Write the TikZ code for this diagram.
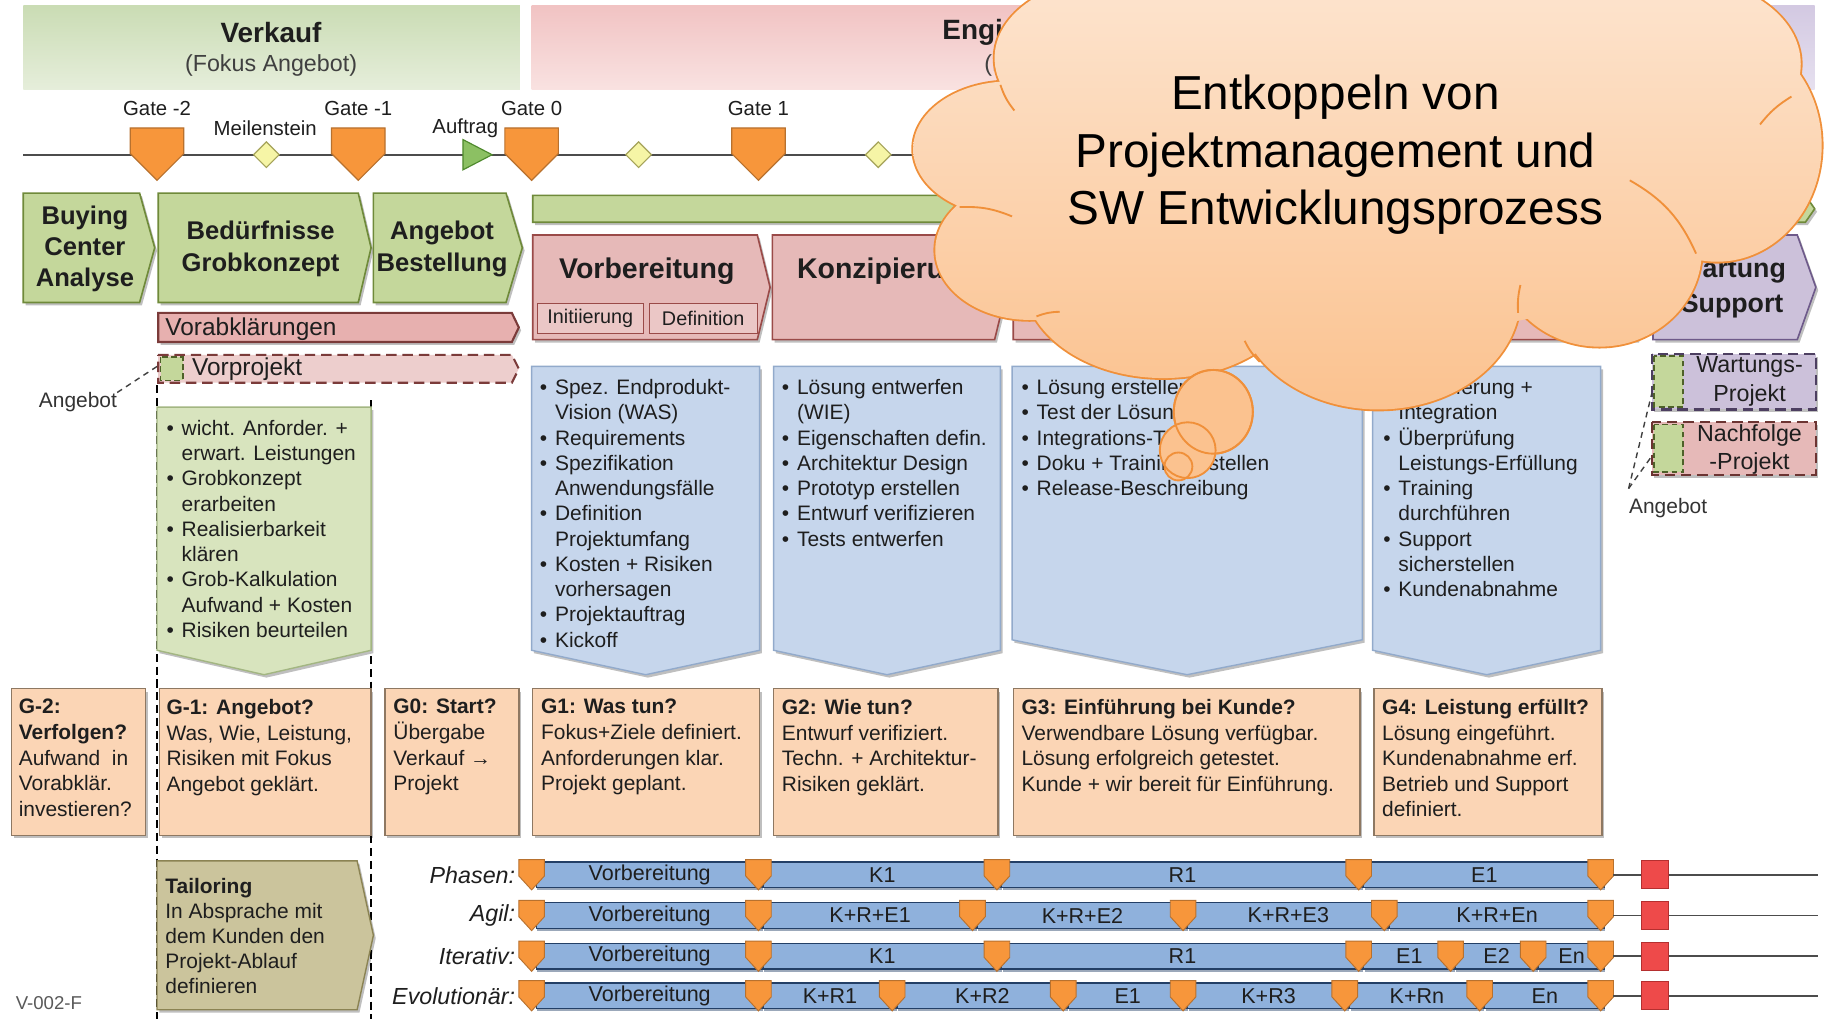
\documentclass[tikz,border=0pt]{standalone}
\usepackage{fontspec}
\setmainfont{Liberation Sans}
\usetikzlibrary{shadows}

% ---------- colours ----------
\definecolor{txt}{HTML}{1E1E1E}
\definecolor{verkaufA}{HTML}{CADCB4}
\definecolor{verkaufB}{HTML}{E6EEDB}
\definecolor{engA}{HTML}{F1C3C3}
\definecolor{engB}{HTML}{F9E2E1}
\definecolor{betrA}{HTML}{D3C9E2}
\definecolor{betrB}{HTML}{E6E0EF}
\definecolor{gateF}{HTML}{F7963B}
\definecolor{gateD}{HTML}{B8712E}
\definecolor{msF}{HTML}{F6F5A6}
\definecolor{msD}{HTML}{A5A35A}
\definecolor{auftF}{HTML}{8CC063}
\definecolor{auftD}{HTML}{4F8A2E}
\definecolor{grnF}{HTML}{C4D79B}
\definecolor{grnD}{HTML}{6F8A3A}
\definecolor{pnkF}{HTML}{E6B9B8}
\definecolor{pnkD}{HTML}{9A4A48}
\definecolor{purF}{HTML}{CCC1DA}
\definecolor{purD}{HTML}{6E5A8A}
\definecolor{bluF}{HTML}{C6D6EC}
\definecolor{bluD}{HTML}{92AACB}
\definecolor{lgrF}{HTML}{D8E4BE}
\definecolor{lgrD}{HTML}{A3B682}
\definecolor{pchF}{HTML}{FBD5B5}
\definecolor{pchD}{HTML}{8E7862}
\definecolor{tanF}{HTML}{CBC49C}
\definecolor{tanD}{HTML}{8B8353}
\definecolor{barF}{HTML}{8FB1DC}
\definecolor{barD}{HTML}{233F66}
\definecolor{redF}{HTML}{EE4A4A}
\definecolor{redD}{HTML}{B52F2F}
\definecolor{clTop}{HTML}{FDE7D4}
\definecolor{clBot}{HTML}{FBC28F}
\definecolor{clLine}{HTML}{F0903A}

% ---------- shape helpers ----------
% arrow box pointing right: style, x1, y1, x2 (tip), y2, tip depth
\newcommand\hplate[6]{\path[#1] (#2,#3) -- ({#4-#6},#3) -- (#4,{(#3+#5)/2}) -- ({#4-#6},#5) -- (#2,#5) -- cycle;}
% box pointing down: style, x1, y1, x2, shoulder y, tip y
\newcommand\dnbox[6]{\path[#1] (#2,#3) -- (#4,#3) -- (#4,#5) -- ({(#2+#4)/2},#6) -- (#2,#5) -- cycle;}
\newcommand\biggate[1]{\path[gatest] ({#1-23},110) -- ({#1+23},110) -- ({#1+23},132) -- (#1,155) -- ({#1-23},132) -- cycle;}
\newcommand\smallgate[2]{\path[gatest,line width=0.8] ({#1-11},{#2-13}) -- ({#1+11},{#2-13}) -- ({#1+11},{#2+1}) -- (#1,{#2+13}) -- ({#1-11},{#2+1}) -- cycle;}
\newcommand\mdiamond[2]{\path[diast] ({#1-11},#2) -- (#1,{#2-11}) -- ({#1+11},#2) -- (#1,{#2+11}) -- cycle;}
\newcommand\blt{\makebox[13pt][l]{\textbullet}}
\newcommand\bsk{\hspace*{13pt}}

% one tailoring row: name, y, segments x1/x2/label, gate positions
\newcommand\phaserow[4]{%
  \foreach \xa/\xb/\lab [count=\i] in {#3}{
    \path[barst] ({\xa+4},{#2-11}) rectangle ({\xb+3},{#2+11});
    \node[bartxt] (#1seg\i) at ({(\xa+\xb)/2+4},#2) {\lab};
  }
  \foreach \g in {#4}{\smallgate{\g}{#2}}
  \node[redsq] (#1stop) at (1422.5,#2) {};
  \coordinate (#1tail) at (1387,#2);
  \coordinate (#1end) at (1563,#2);
  \draw[tline] (#1tail) -- (#1stop);
  \draw[tline] (#1stop) -- (#1end);
}

% lobes of the thought cloud
\newcommand\cloudlobes{
  (960,50) ellipse [x radius=105, y radius=70]
  (868,128) ellipse [x radius=83, y radius=58]
  (885,215) ellipse [x radius=81, y radius=60]
  (1000,240) ellipse [x radius=120, y radius=85]
  (1185,255) ellipse [x radius=122, y radius=97]
  (1375,215) ellipse [x radius=88, y radius=83]
  (1476,125) ellipse [x radius=90, y radius=100]
  (1440,55) ellipse [x radius=108, y radius=75]
}
\newcommand\cloudcore{
  (1160,150) ellipse [x radius=330, y radius=140]
  (1200,30) ellipse [x radius=260, y radius=80]
}

\tikzset{
  shd/.style={drop shadow={shadow xshift=2pt, shadow yshift=-2.5pt, opacity=.25, fill=black}},
  chevG/.style={fill=grnF, draw=grnD, line width=1.4, shd},
  chevP/.style={fill=pnkF, draw=pnkD, line width=1.4, shd},
  chevV/.style={fill=purF, draw=purD, line width=1.4, shd},
  subP/.style={fill=pnkF!80!white, draw=pnkD, line width=1},
  gatest/.style={fill=gateF, draw=gateD, line width=1},
  diast/.style={fill=msF, draw=msD, line width=1},
  auft/.style={fill=auftF, draw=auftD, line width=1},
  tline/.style={draw=black!70, line width=1.5},
  lgr/.style={fill=lgrF, draw=lgrD, line width=1.2, shd},
  blu/.style={fill=bluF, draw=bluD, line width=1.2, shd},
  pch/.style={fill=pchF, draw=pchD, line width=1.2, shd},
  tan/.style={fill=tanF, draw=tanD, line width=1.2, shd},
  barst/.style={fill=barF, draw=barD, line width=1.3, drop shadow={shadow xshift=1pt, shadow yshift=-2.5pt, opacity=.45, fill=barD}},
  redsq/.style={rectangle, minimum width=23, minimum height=24, inner sep=0, fill=redF, draw=redD, line width=1},
  vdash/.style={draw=black, line width=1.3, dash pattern=on 7pt off 4pt},
  dashlink/.style={draw=black!75, line width=1.2, dash pattern=on 5pt off 4pt},
  lbl/.style={font=\fontsize{17.5}{20}\selectfont, text=txt, inner sep=0},
  chevtxt/.style={font=\bfseries\fontsize{22}{27}\selectfont, align=center, text=txt, inner sep=0},
  phtxt/.style={font=\bfseries\fontsize{24.5}{28}\selectfont, text=txt, inner sep=0},
  bul/.style={font=\fontsize{18}{21.7}\selectfont, align=left, anchor=north west, inner sep=0, text=txt},
  gtxt/.style={font=\fontsize{18}{22}\selectfont, align=left, anchor=north west, inner sep=0, text=txt},
  bartxt/.style={font=\fontsize{18.5}{20}\selectfont, text=txt, inner sep=0},
  rowlbl/.style={font=\itshape\fontsize{20}{22}\selectfont, text=txt, anchor=east, inner sep=0},
}

\begin{document}
\begin{tikzpicture}[x=1pt,y=-1pt]
\useasboundingbox (0,0) rectangle (1568,876);
\fill[white] (0,0) rectangle (1568,876);
\begin{scope}
\clip (0,0) rectangle (1568,876);

% ---------- header bands ----------
\shade[top color=verkaufA, bottom color=verkaufB] (20,5) rectangle (447,77);
\shade[top color=engA, bottom color=engB] (457,5) rectangle (1300,77);
\shade[top color=betrA, bottom color=betrB] (1310,5) rectangle (1560,77);
\node[font=\bfseries\fontsize{24}{28}\selectfont, text=txt] (verkauf) at (233,28) {Verkauf};
\node[font=\fontsize{20}{24}\selectfont, text=txt!85] (verkaufsub) at (233,56) {(Fokus Angebot)};
\node[font=\bfseries\fontsize{24}{28}\selectfont, text=txt, anchor=west, inner sep=0] (eng) at (810,28) {Engineering};
\node[font=\fontsize{20}{24}\selectfont, text=txt!85, anchor=west, inner sep=0] (engsub) at (846,56) {(Fokus Projekt)};

% ---------- time line with gates and milestones ----------
\coordinate (tlA) at (20,133);
\coordinate (tlB) at (1560,133);
\draw[tline] (tlA) -- (tlB);
\biggate{135}
\biggate{308}
\biggate{457}
\biggate{652}
\mdiamond{229}{133}
\mdiamond{549}{133}
\mdiamond{755}{133}
\path[auft] (398,120) -- (423,133) -- (398,146) -- cycle;
\node[lbl] (g2) at (135,93) {Gate -2};
\node[lbl] (g1) at (308,93) {Gate -1};
\node[lbl] (g0) at (457,93) {Gate 0};
\node[lbl] (gp1) at (652,93) {Gate 1};
\node[lbl] (meil) at (228,110) {Meilenstein};
\node[lbl] (auftrag) at (400,110) {Auftrag};

% ---------- sales phases ----------
\hplate{chevG}{20}{166}{133}{260}{13}
\node[chevtxt] (buying) at (73,214) {Buying\\Center\\Analyse};
\hplate{chevG}{136}{166}{319}{260}{11}
\node[chevtxt] (bed) at (224,214) {Bedürfnisse\\Grobkonzept};
\hplate{chevG}{321}{166}{449}{260}{14}
\node[chevtxt] (angbest) at (380,214) {Angebot\\Bestellung};

% ---------- project phases ----------
\hplate{chevG}{458}{168}{1560}{191}{8}
\hplate{chevP}{458}{202}{662}{292}{11}
\hplate{chevP}{664}{202}{866}{292}{11}
\hplate{chevP}{871}{202}{1176}{292}{11}
\hplate{chevP}{1181}{202}{1418}{292}{11}
\hplate{chevV}{1421}{202}{1561}{292}{16}
\node[phtxt] (vorb) at (556,233) {Vorbereitung};
\node[phtxt, anchor=west] (konz) at (685,233) {Konzipierung};
\node[chevtxt, font=\bfseries\fontsize{23}{30}\selectfont] (wart) at (1489,248) {Wartung\\Support};
\path[subP] (462,261) rectangle (553,287);
\path[subP] (558,261) rectangle (651,287);
\node[font=\fontsize{17}{20}\selectfont, text=txt, inner sep=0] (init) at (507.5,274) {Initiierung};
\node[font=\fontsize{17}{20}\selectfont, text=txt, inner sep=0] (defi) at (604.5,274) {Definition};

% ---------- preliminary clarification and pre-project ----------
\hplate{fill=pnkF!95!red, draw=pnkD!80!black, line width=1.8, shd}{136}{269}{446}{294}{6}
\node[font=\fontsize{21}{24}\selectfont, text=txt, anchor=west, inner sep=0] (vorab) at (142,283) {Vorabklärungen};
\hplate{fill=pnkF!70!white, draw=pnkD!80!black, line width=1.8, dash pattern=on 9pt off 5pt}{136}{305}{446}{329}{6}
\path[fill=grnF, draw=grnD!70!black, line width=1.5, dash pattern=on 5pt off 3pt] (138,307) rectangle (157,327);
\node[font=\fontsize{21}{24}\selectfont, text=txt, anchor=west, inner sep=0] (vorproj) at (165,317) {Vorprojekt};
\node[lbl, font=\fontsize{18}{20}\selectfont, text=black!80] (angL) at (67,346) {Angebot};
\coordinate (vpL) at (135,315);
\draw[dashlink] (angL.north east) -- (vpL);

% ---------- dashed separators ----------
\coordinate (sepAtop) at (135,331);
\coordinate (sepAbot) at (135,876);
\coordinate (sepBtop) at (319,344);
\coordinate (sepBbot) at (319,876);
\draw[vdash] (sepAtop) -- (sepAbot);
\draw[vdash] (sepBtop) -- (sepBbot);

% ---------- activity boxes ----------
\dnbox{lgr}{135}{350}{319}{559}{580}
\node[bul] (vpitems) at (143,361) {\blt wicht. Anforder. +\\\bsk erwart. Leistungen\\\blt Grobkonzept\\\bsk erarbeiten\\\blt Realisierbarkeit\\\bsk klären\\\blt Grob-Kalkulation\\\bsk Aufwand + Kosten\\\blt Risiken beurteilen};

\dnbox{blu}{457}{315}{653}{559}{580}
\node[bul] (act1) at (464,326) {\blt Spez. Endprodukt-\\\bsk Vision (WAS)\\\blt Requirements\\\blt Spezifikation\\\bsk Anwendungsfälle\\\blt Definition\\\bsk Projektumfang\\\blt Kosten + Risiken\\\bsk vorhersagen\\\blt Projektauftrag\\\blt Kickoff};

\dnbox{blu}{665}{315}{860}{559}{580}
\node[bul] (act2) at (672,326) {\blt Lösung entwerfen\\\bsk (WIE)\\\blt Eigenschaften defin.\\\blt Architektur Design\\\blt Prototyp erstellen\\\blt Entwurf verifizieren\\\blt Tests entwerfen};

\dnbox{blu}{870}{315}{1171}{550}{580}
\node[bul] (act3) at (878,326) {\blt Lösung erstellen\\\blt Test der Lösung\\\blt Integrations-Tests\\\blt Doku + Training erstellen\\\blt Release-Beschreibung};

\dnbox{blu}{1180}{315}{1376}{559}{580}
\node[bul] (act4) at (1189,326) {\blt Auslieferung +\\\bsk Integration\\\blt Überprüfung\\\bsk Leistungs-Erfüllung\\\blt Training\\\bsk durchführen\\\blt Support\\\bsk sicherstellen\\\blt Kundenabnahme};

% ---------- follow-up projects ----------
\path[fill=purF, draw=purD!70!black, line width=1.8, dash pattern=on 9pt off 5pt, shd] (1420,304) rectangle (1561,352);
\path[fill=grnF, draw=grnD!70!black, line width=1.5, dash pattern=on 5pt off 3pt] (1422,306) rectangle (1447,350);
\node[font=\fontsize{20}{25}\selectfont, text=txt, align=center, inner sep=0] (wartproj) at (1504,328) {Wartungs-\\Projekt};
\path[fill=pnkF, draw=pnkD!70!black, line width=1.8, dash pattern=on 9pt off 5pt, shd] (1420,363) rectangle (1561,408);
\path[fill=grnF, draw=grnD!70!black, line width=1.5, dash pattern=on 5pt off 3pt] (1422,365) rectangle (1447,406);
\node[font=\fontsize{20}{24}\selectfont, text=txt, align=center, inner sep=0] (nachproj) at (1504,386) {Nachfolge\\-Projekt};
\node[lbl, font=\fontsize{18}{20}\selectfont, text=black!80] (angR) at (1434,437) {Angebot};
\coordinate (angRtop) at (1400,420);
\coordinate (wartL) at (1420,338);
\coordinate (nachL) at (1420,392);
\draw[dashlink] (angRtop) -- (wartL);
\draw[dashlink] (angRtop) -- (nachL);

% ---------- gate criteria ----------
\path[pch] (10,592) rectangle (125,718);
\node[gtxt] (cg2) at (16,601) {\textbf{G-2:}\\\textbf{Verfolgen?}\\Aufwand\ \ in\\Vorabklär.\\investieren?};
\path[pch] (137,592) rectangle (319,718);
\node[gtxt] (cg1) at (143,601) {\textbf{G-1: Angebot?}\\Was, Wie, Leistung,\\Risiken mit Fokus\\Angebot geklärt.};
\path[pch] (331,592) rectangle (446,718);
\node[gtxt] (cg0) at (338,601) {\textbf{G0: Start?}\\Übergabe\\Verkauf →\\Projekt};
\path[pch] (458,592) rectangle (653,718);
\node[gtxt] (cgp1) at (465,601) {\textbf{G1: Was tun?}\\Fokus+Ziele definiert.\\Anforderungen klar.\\Projekt geplant.};
\path[pch] (665,592) rectangle (858,718);
\node[gtxt] (cgp2) at (672,601) {\textbf{G2: Wie tun?}\\Entwurf verifiziert.\\Techn. + Architektur-\\Risiken geklärt.};
\path[pch] (871,592) rectangle (1169,718);
\node[gtxt] (cgp3) at (878,601) {\textbf{G3: Einführung bei Kunde?}\\Verwendbare Lösung verfügbar.\\Lösung erfolgreich getestet.\\Kunde + wir bereit für Einführung.};
\path[pch] (1181,592) rectangle (1377,718);
\node[gtxt] (cgp4) at (1188,601) {\textbf{G4: Leistung erfüllt?}\\Lösung eingeführt.\\Kundenabnahme erf.\\Betrieb und Support\\definiert.};

% ---------- tailoring ----------
\hplate{tan}{135}{740}{321}{868}{14}
\node[bul, font=\fontsize{18}{21.5}\selectfont] (tail) at (142,755) {\textbf{Tailoring}\\In Absprache mit\\dem Kunden den\\Projekt-Ablauf\\definieren};
\node[font=\fontsize{16}{18}\selectfont, text=black!65, inner sep=0] (vcode) at (42,862) {V-002-F};

\node[rowlbl] (lph) at (443,752) {Phasen:};
\node[rowlbl] (lag) at (443,787) {Agil:};
\node[rowlbl] (lit) at (443,822) {Iterativ:};
\node[rowlbl] (lev) at (443,856) {Evolutionär:};

\phaserow{ph}{752}{457/652/Vorbereitung, 652/857/K1, 857/1168/R1, 1168/1376/E1}{457,652,857,1168,1376}
\phaserow{ag}{787}{457/652/Vorbereitung, 652/836/K+R+E1, 836/1017/K+R+E2, 1017/1190/K+R+E3, 1190/1376/K+R+En}{457,652,836,1017,1190,1376}
\phaserow{it}{822}{457/652/Vorbereitung, 652/857/K1, 857/1168/R1, 1168/1247/E1, 1247/1318/E2, 1318/1376/En}{457,652,857,1168,1247,1318,1376}
\phaserow{ev}{856}{457/652/Vorbereitung, 652/767/K+R1, 767/914/K+R2, 914/1017/E1, 1017/1156/K+R3, 1156/1272/K+Rn, 1272/1376/En}{457,652,767,914,1017,1156,1272,1376}

% ---------- thought cloud ----------
\draw[draw=clLine, line width=3.2] \cloudlobes;
\shade[top color=clTop, bottom color=clBot] \cloudlobes \cloudcore;
\begin{scope}[draw=clLine, line width=1.6]
  \draw (825,178) to[bend left=12] (870,186);
  \draw (891,272) to[bend left=10] (911,268);
  \draw (1070,293) to[bend right=10] (1083,311);
  \draw (1305,269) to[bend left=8] (1307,245);
  \draw (1513,107) to[bend left=10] (1540,83);
  \draw (1401,155) to[bend left=18] (1458,218);
  \draw (860,73) to[bend right=10] (872,95);
\end{scope}
\path[fill=clBot, draw=clLine, line width=1.6] (1043,354) ellipse [x radius=34, y radius=36];
\path[fill=clBot] (1021,387) circle [radius=24];
\path[fill=clBot] (1013,401) circle [radius=12];
\draw[clLine, line width=1.6] (1043,354) ellipse [x radius=34, y radius=36];
\draw[clLine, line width=1.6] (1021,387) circle [radius=24];
\draw[clLine, line width=1.6] (1013,401) circle [radius=12];
\node[font=\fontsize{41}{49.5}\selectfont, align=center, text=black, inner sep=0] (cloudtxt) at (1148,133) {Entkoppeln von\\Projektmanagement und\\SW Entwicklungsprozess};

\end{scope}
\end{tikzpicture}
\end{document}
